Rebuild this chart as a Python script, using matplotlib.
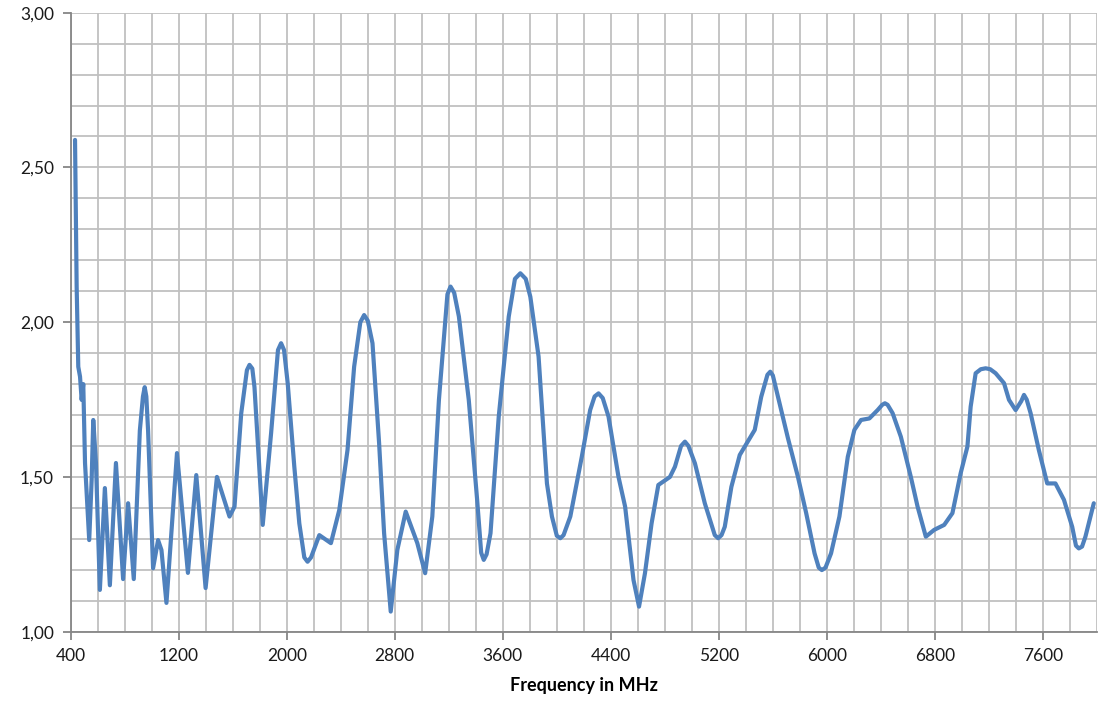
import matplotlib
matplotlib.use("Agg")
import matplotlib.pyplot as plt
from matplotlib.ticker import MultipleLocator, FixedLocator, FuncFormatter

freq_mhz = [432, 444, 456, 469, 481, 493, 506, 537, 555, 567, 587, 616, 653, 690,
            735, 788, 825, 867, 912, 935, 948, 960, 973, 1010, 1047, 1072, 1109, 1187, 1268,
            1330, 1399, 1483, 1576, 1613, 1663, 1705, 1724, 1745, 1761, 1822, 1884,
            1935, 1958, 1980, 2007,
            2056, 2093, 2130, 2154, 2180, 2241, 2327, 2389, 2450, 2499, 2545, 2573, 2600,
            2635, 2684, 2721, 2770, 2819, 2881, 2967, 3025, 3078, 3127, 3190, 3213, 3240,
            3275, 3348, 3410, 3440, 3459, 3480,
            3509, 3570, 3644, 3690, 3730, 3770, 3804, 3865, 3927, 3964, 4000, 4026, 4050,
            4100, 4185, 4247, 4280, 4309, 4340,
            4383, 4457, 4506, 4568, 4609, 4653, 4702, 4752, 4838, 4875, 4920, 4949, 4975,
            5023, 5096, 5170, 5195, 5220, 5244, 5293, 5355, 5466, 5514, 5560, 5581, 5600,
            5638, 5712, 5786,
            5847, 5909, 5940, 5963, 5990, 6031, 6093, 6155, 6204, 6253, 6315, 6376, 6410,
            6430, 6450, 6487,
            6548, 6622, 6672, 6733, 6795, 6869, 6930, 6991, 7041, 7065, 7102, 7140, 7176,
            7210, 7250, 7312, 7349, 7398, 7440, 7460, 7480, 7509, 7570, 7632, 7693, 7756,
            7817, 7845, 7866, 7890, 7915, 7977]
vswr = [2.589, 2.115, 1.856, 1.824, 1.749, 1.800, 1.545, 1.296, 1.490, 1.684, 1.545,
        1.135, 1.464, 1.150, 1.545, 1.170, 1.415, 1.170, 1.650, 1.760, 1.790, 1.760,
        1.650, 1.205, 1.296, 1.264, 1.093, 1.577, 1.190, 1.506, 1.141, 1.500, 1.372,
        1.404, 1.706, 1.845, 1.862, 1.850, 1.790, 1.345, 1.641, 1.910, 1.932, 1.910,
        1.803, 1.533, 1.350, 1.240, 1.226, 1.240, 1.312, 1.286, 1.393, 1.587, 1.856,
        2.000, 2.023, 2.005, 1.932, 1.609, 1.318, 1.065, 1.264, 1.388, 1.286, 1.189,
        1.372, 1.749, 2.090, 2.115, 2.095, 2.018, 1.749, 1.426, 1.255, 1.232, 1.250,
        1.318, 1.695, 2.018, 2.140, 2.158, 2.140, 2.082, 1.889, 1.479, 1.372, 1.310,
        1.302, 1.312, 1.372, 1.565, 1.716, 1.760, 1.770, 1.755, 1.695, 1.500, 1.404,
        1.167, 1.081, 1.189, 1.350, 1.474, 1.500, 1.533, 1.600, 1.614, 1.600, 1.544,
        1.415, 1.312, 1.302, 1.312, 1.339, 1.468, 1.571, 1.652, 1.759, 1.830, 1.840,
        1.828, 1.759, 1.625, 1.500, 1.383, 1.253, 1.207, 1.199, 1.207, 1.253, 1.372,
        1.565, 1.652, 1.684, 1.689, 1.716, 1.733, 1.738, 1.733, 1.706, 1.630, 1.500,
        1.404, 1.307, 1.329, 1.345, 1.383, 1.512, 1.598, 1.727, 1.835, 1.848, 1.851,
        1.848, 1.835, 1.803, 1.749, 1.716, 1.745, 1.765, 1.750, 1.706, 1.587, 1.479,
        1.479, 1.426, 1.339, 1.278, 1.269, 1.275, 1.307, 1.415]

x_ticks = [400, 1200, 2000, 2800, 3600, 4400, 5200, 6000, 6800, 7600]
y_ticks = [1.0, 1.5, 2.0, 2.5, 3.0]

fig = plt.figure(figsize=(10.98, 7.05), dpi=100)
ax = fig.add_axes([0.0644, 0.104, 0.9346, 0.878])

ax.plot(freq_mhz, vswr, color="#4F81BD", linewidth=3.0, solid_joinstyle="round",
        solid_capstyle="round", zorder=3)

ax.set_xlim(400, 8000)
ax.set_ylim(1.0, 3.0)

ax.xaxis.set_major_locator(FixedLocator(x_ticks))
ax.xaxis.set_minor_locator(MultipleLocator(200))
ax.yaxis.set_major_locator(FixedLocator(y_ticks))
ax.yaxis.set_minor_locator(MultipleLocator(0.1))
ax.yaxis.set_major_formatter(FuncFormatter(lambda v, p: f"{v:.2f}".replace(".", ",")))
ax.xaxis.set_major_formatter(FuncFormatter(lambda v, p: f"{int(v)}"))

ax.grid(which="both", color="#c0c0c0", linewidth=1.3, zorder=0)
ax.set_axisbelow(True)

for side in ("top", "right"):
    ax.spines[side].set_visible(False)
for side in ("left", "bottom"):
    ax.spines[side].set_color("#868686")
    ax.spines[side].set_linewidth(1.3)

ax.tick_params(which="major", direction="out", length=6, width=1.3, color="#868686",
               labelsize=12.5, labelcolor="#1a1a1a", pad=6)
ax.tick_params(which="minor", length=0)
for lab in ax.get_xticklabels() + ax.get_yticklabels():
    lab.set_fontfamily(["Lato", "DejaVu Sans"])

ax.set_xlabel("Frequency in MHz", fontsize=13, fontweight="bold",
              fontfamily=["Lato", "DejaVu Sans"], labelpad=9)

fig.savefig("out.png", dpi=100)
